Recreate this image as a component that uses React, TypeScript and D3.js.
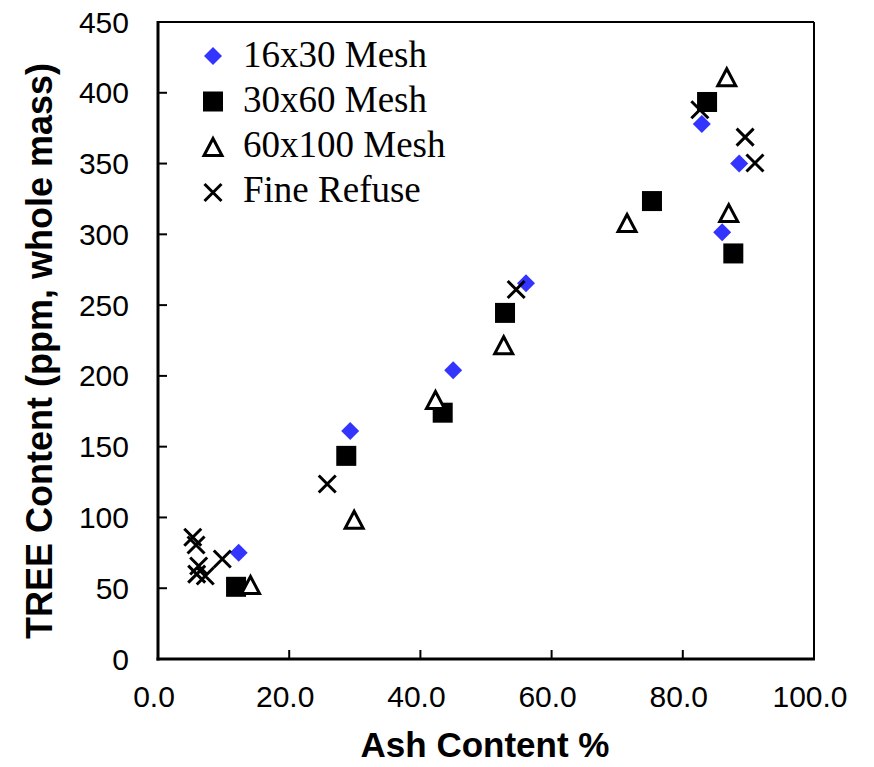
import React from 'react';
import * as d3 from 'd3';

// ---- Data ----
const mesh16x30Ash = [12.3, 29.3, 45.0, 56.1, 82.9, 88.6, 86.0];
const mesh16x30Tree = [75, 161, 204, 265.5, 378, 350, 301.5];

const mesh30x60Ash = [11.9, 28.7, 43.4, 52.9, 75.3, 83.7, 87.7];
const mesh30x60Tree = [51, 143.5, 174, 244.5, 323.5, 393.5, 286.5];

const mesh60x100Ash = [14.1, 29.9, 42.3, 52.7, 71.5, 86.7, 87.0];
const mesh60x100Tree = [52.3, 98.4, 183, 221.6, 308, 411, 315];

const fineRefuseAsh = [5.3, 5.8, 6.2, 5.9, 7.2, 9.8, 25.8, 54.6, 82.6, 89.5, 91.0];
const fineRefuseTree = [86, 80.5, 65.7, 60, 58.6, 70.6, 123.6, 261, 388, 368.7, 350.4];

const xTicks = [0, 20, 40, 60, 80, 100];
const yTicks = [0, 50, 100, 150, 200, 250, 300, 350, 400, 450];

const seriesNames = ['16x30 Mesh', '30x60 Mesh', '60x100 Mesh', 'Fine Refuse'];

const W = 874;
const H = 767;
const plot = { left: 158, right: 814, top: 22, bottom: 659 };

const BLUE = '#3434ff';
const SANS = '"Liberation Sans", Arial, sans-serif';
const SERIF = '"Liberation Serif", "Times New Roman", serif';

type Kind = 'diamond' | 'square' | 'triangle' | 'x';

function Marker({ kind, cx, cy }: { kind: Kind; cx: number; cy: number }) {
  if (kind === 'diamond') {
    const r = 9;
    const p = d3.path();
    p.moveTo(cx, cy - r);
    p.lineTo(cx + r, cy);
    p.lineTo(cx, cy + r);
    p.lineTo(cx - r, cy);
    p.closePath();
    return <path d={p.toString()} fill={BLUE} />;
  }
  if (kind === 'square') {
    const s = 20;
    return <rect x={cx - s / 2} y={cy - s / 2} width={s} height={s} fill="#000" />;
  }
  if (kind === 'triangle') {
    const hw = 9;
    const hh = 8.5;
    const p = d3.path();
    p.moveTo(cx, cy - hh);
    p.lineTo(cx + hw, cy + hh);
    p.lineTo(cx - hw, cy + hh);
    p.closePath();
    return <path d={p.toString()} fill="#fff" stroke="#000" strokeWidth={3} strokeLinejoin="miter" />;
  }
  const r = 8.5;
  const p = d3.path();
  p.moveTo(cx - r, cy - r);
  p.lineTo(cx + r, cy + r);
  p.moveTo(cx + r, cy - r);
  p.lineTo(cx - r, cy + r);
  return <path d={p.toString()} stroke="#000" strokeWidth={3} fill="none" />;
}

export default function App() {
  const x = d3.scaleLinear().domain([0, 100]).range([plot.left, plot.right]);
  const y = d3.scaleLinear().domain([0, 450]).range([plot.bottom, plot.top]);

  const series: { name: string; kind: Kind; xs: number[]; ys: number[] }[] = [
    { name: seriesNames[0], kind: 'diamond', xs: mesh16x30Ash, ys: mesh16x30Tree },
    { name: seriesNames[1], kind: 'square', xs: mesh30x60Ash, ys: mesh30x60Tree },
    { name: seriesNames[2], kind: 'triangle', xs: mesh60x100Ash, ys: mesh60x100Tree },
    { name: seriesNames[3], kind: 'x', xs: fineRefuseAsh, ys: fineRefuseTree },
  ];

  const fmtX = d3.format('.1f');

  return (
    <svg
      width={W}
      height={H}
      style={{ position: 'absolute', left: 0, top: 0, background: '#fff' }}
    >
      <rect x={0} y={0} width={W} height={H} fill="#fff" />

      {/* frame top/right */}
      <line x1={plot.left} x2={plot.right} y1={plot.top} y2={plot.top} stroke="#000" strokeWidth={2} />
      <line x1={plot.right} x2={plot.right} y1={plot.top} y2={plot.bottom} stroke="#000" strokeWidth={2} />

      {/* y ticks */}
      {yTicks.map((t) => (
        <g key={'y' + t}>
          <line x1={plot.left} x2={plot.left + 9} y1={y(t)} y2={y(t)} stroke="#000" strokeWidth={2} />
          <text
            x={129}
            y={y(t)}
            dy="0.35em"
            textAnchor="end"
            fontFamily={SANS}
            fontSize={30}
            fill="#000"
          >
            {t}
          </text>
        </g>
      ))}

      {/* x ticks */}
      {xTicks.map((t) => (
        <g key={'x' + t}>
          <line x1={x(t)} x2={x(t)} y1={plot.bottom} y2={plot.bottom - 9} stroke="#000" strokeWidth={2} />
          <text
            x={x(t) - 4}
            y={707}
            textAnchor="middle"
            fontFamily={SANS}
            fontSize={30}
            fill="#000"
          >
            {fmtX(t)}
          </text>
        </g>
      ))}

      {/* axes */}
      <line x1={plot.left} x2={plot.left} y1={plot.top - 1} y2={plot.bottom + 1.5} stroke="#000" strokeWidth={3} />
      <line x1={plot.left - 1.5} x2={plot.right + 1} y1={plot.bottom} y2={plot.bottom} stroke="#000" strokeWidth={3} />

      {/* data */}
      {series.map((s) =>
        s.xs.map((v, i) => (
          <Marker key={s.name + i} kind={s.kind} cx={x(v)} cy={y(s.ys[i])} />
        ))
      )}

      {/* legend */}
      {series.map((s, i) => (
        <g key={'leg' + s.name}>
          <Marker kind={s.kind} cx={213} cy={56 + i * 45.5} />
          <text x={243} y={67 + i * 45} fontFamily={SERIF} fontSize={37} fill="#000">
            {s.name}
          </text>
        </g>
      ))}

      {/* axis titles */}
      <text
        transform="translate(52,351) rotate(-90)"
        textAnchor="middle"
        fontFamily={SANS}
        fontWeight="bold"
        fontSize={36}
        fill="#000"
      >
        TREE Content (ppm, whole mass)
      </text>
      <text
        x={485}
        y={757}
        textAnchor="middle"
        fontFamily={SANS}
        fontWeight="bold"
        fontSize={35}
        fill="#000"
      >
        Ash Content %
      </text>
    </svg>
  );
}
